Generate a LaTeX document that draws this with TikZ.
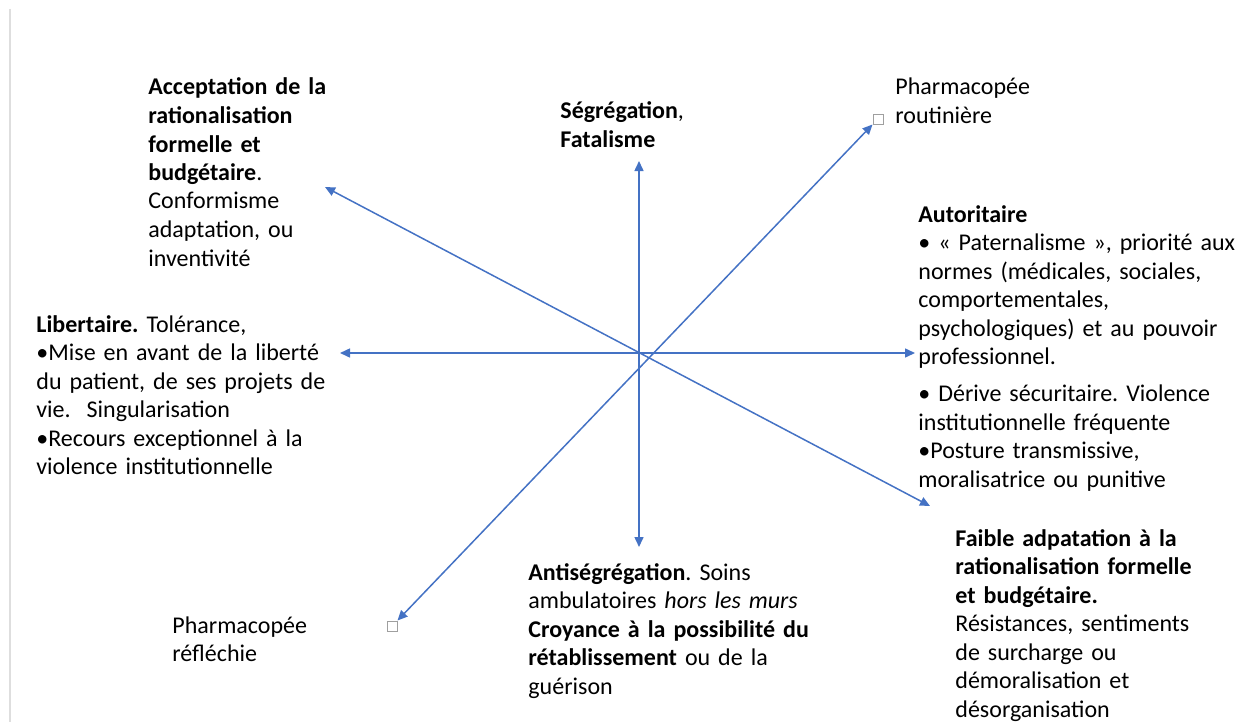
\documentclass[tikz,border=0pt]{standalone}
\usepackage{fontspec}
\setmainfont{Carlito}
\usetikzlibrary{arrows.meta}
\definecolor{axisblue}{RGB}{68,114,196}
\definecolor{bordergray}{RGB}{222,222,222}
\frenchspacing
\begin{document}
\begin{tikzpicture}[x=0.5pt,y=-0.5pt,
  axis/.style={draw=axisblue, line width=0.75pt,
    {Triangle[length=5pt,width=4.5pt]}-{Triangle[length=5pt,width=4.5pt]}},
  txt/.style={anchor=base west, inner sep=0pt, align=left, text width=200pt,
    font=\fontsize{12}{14.25}\selectfont},
  endsq/.style={draw=gray!75, fill=white, line width=0.5pt, minimum size=5pt,
    inner sep=0pt, rectangle}
]
\useasboundingbox (0,0) rectangle (1251,722);
\draw[bordergray, line width=1.4pt] (10,9) -- (10,722);

% axis end points
\coordinate (vtop) at (639,161);
\coordinate (vbot) at (639,547);
\coordinate (hleft) at (340,353);
\coordinate (hright) at (915,353);
\coordinate (dtl) at (325,187);
\coordinate (dbr) at (930,506);
\node[endsq] (sqtr) at (878,119) {};
\node[endsq] (sqbl) at (392,626) {};

\draw[axis] (vtop) -- (vbot);
\draw[axis] (hleft) -- (hright);
\draw[axis] (dtl) -- (dbr);
\draw[axis] (sqbl.north east) -- (sqtr.south west);

% texts
\node[txt] (acc) at (148,95) {\textbf{Acceptation de la}\\\textbf{rationalisation}\\\textbf{formelle et}\\\textbf{budgétaire}.\\Conformisme\\adaptation, ou\\inventivité};
\node[txt] (seg) at (560,119) {\textbf{Ségrégation}, \\\textbf{Fatalisme}};
\node[txt] (pht) at (895,95) {Pharmacopée\\routinière};
\node[txt] (aut) at (918,222) {\textbf{Autoritaire}\\• « Paternalisme », priorité aux\\normes (médicales, sociales,\\comportementales,\\psychologiques) et au pouvoir\\professionnel.\\[4.25pt]• Dérive sécuritaire. Violence\\institutionnelle fréquente\\•Posture transmissive,\\moralisatrice ou punitive};
\node[txt] (lib) at (36,332) {\textbf{Libertaire.} Tolérance,\\•Mise en avant de la liberté\\du patient, de ses projets de\\vie.\ \ Singularisation\\•Recours exceptionnel à la\\violence institutionnelle};
\node[txt] (anti) at (528,580) {\textbf{Antiségrégation}. Soins\\ambulatoires \textit{hors les murs}\\\textbf{Croyance à la possibilité du}\\\textbf{rétablissement} ou de la\\guérison};
\node[txt] (phb) at (172,633) {Pharmacopée\\réfléchie};
\node[txt] (fai) at (955,546) {\textbf{Faible adpatation à la}\\\textbf{rationalisation formelle}\\\textbf{et budgétaire.}\\Résistances, sentiments\\de surcharge ou\\démoralisation et\\désorganisation};
\end{tikzpicture}
\end{document}
